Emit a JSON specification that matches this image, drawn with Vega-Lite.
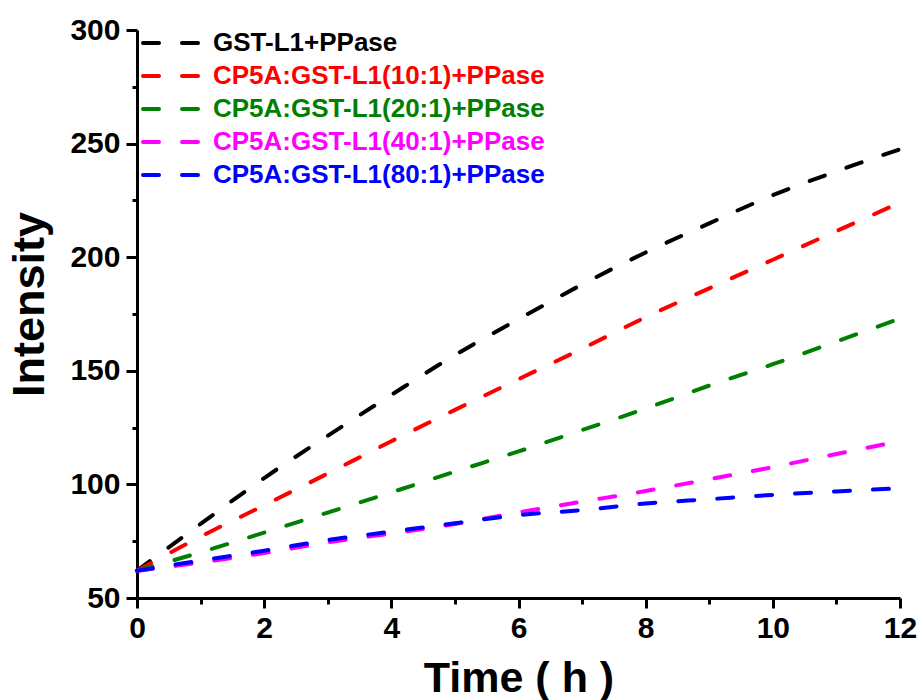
{
  "$schema": "https://vega.github.io/schema/vega-lite/v6.json",
  "width": 763,
  "height": 568,
  "autosize": "none",
  "padding": {"left": 137, "top": 30, "right": 22, "bottom": 102},
  "background": "white",
  "config": {"view": {"stroke": null}, "font": "Liberation Sans"},
  "data": {"values": [
    {"t": 0, "v": 62, "s": "GST-L1+PPase"},
    {"t": 1, "v": 82.6, "s": "GST-L1+PPase"},
    {"t": 2, "v": 102.8, "s": "GST-L1+PPase"},
    {"t": 3, "v": 121.4, "s": "GST-L1+PPase"},
    {"t": 4, "v": 139.4, "s": "GST-L1+PPase"},
    {"t": 5, "v": 156.9, "s": "GST-L1+PPase"},
    {"t": 6, "v": 172.7, "s": "GST-L1+PPase"},
    {"t": 7, "v": 188.0, "s": "GST-L1+PPase"},
    {"t": 8, "v": 202.1, "s": "GST-L1+PPase"},
    {"t": 9, "v": 214.9, "s": "GST-L1+PPase"},
    {"t": 10, "v": 227.3, "s": "GST-L1+PPase"},
    {"t": 11, "v": 237.8, "s": "GST-L1+PPase"},
    {"t": 12, "v": 247.5, "s": "GST-L1+PPase"},
    {"t": 0, "v": 62, "s": "CP5A:GST-L1(10:1)+PPase"},
    {"t": 1, "v": 77.0, "s": "CP5A:GST-L1(10:1)+PPase"},
    {"t": 2, "v": 90.8, "s": "CP5A:GST-L1(10:1)+PPase"},
    {"t": 3, "v": 104.8, "s": "CP5A:GST-L1(10:1)+PPase"},
    {"t": 4, "v": 119.0, "s": "CP5A:GST-L1(10:1)+PPase"},
    {"t": 5, "v": 132.8, "s": "CP5A:GST-L1(10:1)+PPase"},
    {"t": 6, "v": 146.3, "s": "CP5A:GST-L1(10:1)+PPase"},
    {"t": 7, "v": 159.7, "s": "CP5A:GST-L1(10:1)+PPase"},
    {"t": 8, "v": 173.6, "s": "CP5A:GST-L1(10:1)+PPase"},
    {"t": 9, "v": 186.3, "s": "CP5A:GST-L1(10:1)+PPase"},
    {"t": 10, "v": 198.9, "s": "CP5A:GST-L1(10:1)+PPase"},
    {"t": 11, "v": 211.5, "s": "CP5A:GST-L1(10:1)+PPase"},
    {"t": 12, "v": 224.0, "s": "CP5A:GST-L1(10:1)+PPase"},
    {"t": 0, "v": 62, "s": "CP5A:GST-L1(20:1)+PPase"},
    {"t": 1, "v": 70.1, "s": "CP5A:GST-L1(20:1)+PPase"},
    {"t": 2, "v": 78.8, "s": "CP5A:GST-L1(20:1)+PPase"},
    {"t": 3, "v": 87.6, "s": "CP5A:GST-L1(20:1)+PPase"},
    {"t": 4, "v": 96.5, "s": "CP5A:GST-L1(20:1)+PPase"},
    {"t": 5, "v": 105.6, "s": "CP5A:GST-L1(20:1)+PPase"},
    {"t": 6, "v": 114.5, "s": "CP5A:GST-L1(20:1)+PPase"},
    {"t": 7, "v": 123.9, "s": "CP5A:GST-L1(20:1)+PPase"},
    {"t": 8, "v": 133.4, "s": "CP5A:GST-L1(20:1)+PPase"},
    {"t": 9, "v": 143.5, "s": "CP5A:GST-L1(20:1)+PPase"},
    {"t": 10, "v": 152.9, "s": "CP5A:GST-L1(20:1)+PPase"},
    {"t": 11, "v": 162.9, "s": "CP5A:GST-L1(20:1)+PPase"},
    {"t": 12, "v": 173.0, "s": "CP5A:GST-L1(20:1)+PPase"},
    {"t": 0, "v": 62, "s": "CP5A:GST-L1(40:1)+PPase"},
    {"t": 1, "v": 65.6, "s": "CP5A:GST-L1(40:1)+PPase"},
    {"t": 2, "v": 69.8, "s": "CP5A:GST-L1(40:1)+PPase"},
    {"t": 3, "v": 74.5, "s": "CP5A:GST-L1(40:1)+PPase"},
    {"t": 4, "v": 78.4, "s": "CP5A:GST-L1(40:1)+PPase"},
    {"t": 5, "v": 82.6, "s": "CP5A:GST-L1(40:1)+PPase"},
    {"t": 6, "v": 87.7, "s": "CP5A:GST-L1(40:1)+PPase"},
    {"t": 7, "v": 92.4, "s": "CP5A:GST-L1(40:1)+PPase"},
    {"t": 8, "v": 97.1, "s": "CP5A:GST-L1(40:1)+PPase"},
    {"t": 9, "v": 102.3, "s": "CP5A:GST-L1(40:1)+PPase"},
    {"t": 10, "v": 107.6, "s": "CP5A:GST-L1(40:1)+PPase"},
    {"t": 11, "v": 113.4, "s": "CP5A:GST-L1(40:1)+PPase"},
    {"t": 12, "v": 119.0, "s": "CP5A:GST-L1(40:1)+PPase"},
    {"t": 0, "v": 62, "s": "CP5A:GST-L1(80:1)+PPase"},
    {"t": 1, "v": 66.5, "s": "CP5A:GST-L1(80:1)+PPase"},
    {"t": 2, "v": 70.8, "s": "CP5A:GST-L1(80:1)+PPase"},
    {"t": 3, "v": 75.5, "s": "CP5A:GST-L1(80:1)+PPase"},
    {"t": 4, "v": 79.2, "s": "CP5A:GST-L1(80:1)+PPase"},
    {"t": 5, "v": 82.9, "s": "CP5A:GST-L1(80:1)+PPase"},
    {"t": 6, "v": 86.5, "s": "CP5A:GST-L1(80:1)+PPase"},
    {"t": 7, "v": 88.7, "s": "CP5A:GST-L1(80:1)+PPase"},
    {"t": 8, "v": 91.6, "s": "CP5A:GST-L1(80:1)+PPase"},
    {"t": 9, "v": 93.5, "s": "CP5A:GST-L1(80:1)+PPase"},
    {"t": 10, "v": 95.4, "s": "CP5A:GST-L1(80:1)+PPase"},
    {"t": 11, "v": 96.9, "s": "CP5A:GST-L1(80:1)+PPase"},
    {"t": 12, "v": 98.3, "s": "CP5A:GST-L1(80:1)+PPase"}
  ]},
  "mark": {"type": "line", "interpolate": "monotone", "strokeWidth": 4, "strokeDash": [16, 23], "strokeCap": "round"},
  "encoding": {
    "x": {
      "field": "t", "type": "quantitative",
      "scale": {"domain": [0, 12], "nice": false, "zero": false},
      "axis": {
        "title": "Time ( h )",
        "values": [0,1,2,3,4,5,6,7,8,9,10,11,12],
        "labelExpr": "datum.value % 2 === 0 ? datum.label : ''",
        "grid": false,
        "domainColor": "black", "domainWidth": 3,
        "tickColor": "black", "tickWidth": 3,
        "tickSize": {"condition": {"test": "datum.value % 2 === 0", "value": 10}, "value": 6},
        "labelFont": "Liberation Sans", "labelFontSize": 30, "labelFontWeight": "bold", "labelColor": "black",
        "labelPadding": 5, "labelFlush": false, "labelOverlap": false,
        "titleFont": "Liberation Sans", "titleFontSize": 43, "titleFontWeight": "bold", "titleColor": "black",
        "titlePadding": 14
      }
    },
    "y": {
      "field": "v", "type": "quantitative",
      "scale": {"domain": [50, 300], "nice": false, "zero": false},
      "axis": {
        "title": "Intensity",
        "titleY": 274,
        "values": [50,75,100,125,150,175,200,225,250,275,300],
        "labelExpr": "datum.value % 50 === 0 ? datum.label : ''",
        "grid": false,
        "domainColor": "black", "domainWidth": 3,
        "tickColor": "black", "tickWidth": 3,
        "tickSize": {"condition": {"test": "datum.value % 50 === 0", "value": 11}, "value": 5},
        "labelFont": "Liberation Sans", "labelFontSize": 30, "labelFontWeight": "bold", "labelColor": "black",
        "labelPadding": 6, "labelFlush": false, "labelOverlap": false,
        "titleFont": "Liberation Sans", "titleFontSize": 45, "titleFontWeight": "bold", "titleColor": "black",
        "titlePadding": 17
      }
    },
    "color": {
      "field": "s", "type": "nominal",
      "scale": {
        "domain": ["GST-L1+PPase", "CP5A:GST-L1(10:1)+PPase", "CP5A:GST-L1(20:1)+PPase", "CP5A:GST-L1(40:1)+PPase", "CP5A:GST-L1(80:1)+PPase"],
        "range": ["#000000", "#ff0000", "#008000", "#ff00ff", "#0000ff"]
      },
      "legend": {
        "title": null,
        "orient": "none",
        "legendX": 4,
        "legendY": 0,
        "padding": 0,
        "clipHeight": 26,
        "symbolType": "stroke",
        "symbolSize": 3364,
        "symbolStrokeWidth": 4,
        "symbolDash": [16, 23],
        "labelFont": "Liberation Sans",
        "labelFontSize": 26,
        "labelFontWeight": "bold",
        "labelOffset": 10,
        "labelLimit": 500,
        "rowPadding": 7,
        "encode": {
          "labels": {"update": {"fill": {"scale": "color", "field": "value"}}},
          "symbols": {"update": {"strokeCap": {"value": "round"}}}
        }
      }
    },
    "order": {"field": "t"}
  }
}
